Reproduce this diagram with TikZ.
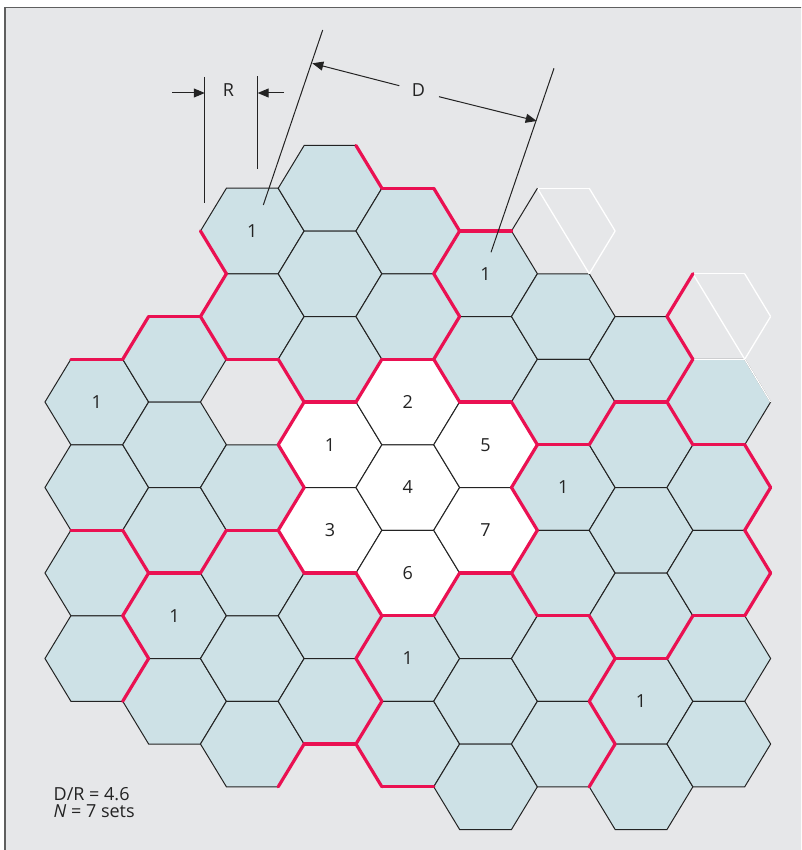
\documentclass[tikz,border=0pt]{standalone}
\usepackage{fontspec}
\setmainfont{Open Sans}
\usetikzlibrary{arrows.meta}
\definecolor{bg}{RGB}{230,231,233}
\definecolor{cellfill}{RGB}{205,225,230}
\definecolor{clred}{RGB}{234,17,82}
\definecolor{ink}{RGB}{35,35,35}
\definecolor{framecol}{RGB}{95,95,95}
\newcommand\X[1]{(96.8+77.75*(#1))}
\newcommand\Y[1]{(402+42.75*(#1))}
\newcommand\hexat[3][]{\path[#1] ({\X{#2}+51.83},{\Y{#3}}) -- ({\X{#2}+25.915},{\Y{#3}+42.75}) -- ({\X{#2}-25.915},{\Y{#3}+42.75}) -- ({\X{#2}-51.83},{\Y{#3}}) -- ({\X{#2}-25.915},{\Y{#3}-42.75}) -- ({\X{#2}+25.915},{\Y{#3}-42.75}) -- cycle;}
% edge a -> a+1 : 0=lower-right 1=bottom 2=lower-left 3=upper-left 4=top 5=upper-right
\newcommand\E[4][redline]{\draw[#1] ({\X{#2}+51.83*cos(60*(#4))},{\Y{#3}+49.363*sin(60*(#4))}) -- ({\X{#2}+51.83*cos(60*(#4+1))},{\Y{#3}+49.363*sin(60*(#4+1))});}
\newcommand\diag[2]{\draw[whiteline] ({\X{#1}-25.915},{\Y{#2}-42.75}) -- ({\X{#1}+25.915},{\Y{#2}+42.75});}
\tikzset{
  bluecell/.style={fill=cellfill,draw=ink,line width=1pt},
  whitecell/.style={fill=white,draw=ink,line width=1pt},
  redline/.style={draw=clred,line width=3.2pt,line cap=round},
  whiteline/.style={draw=white,line width=1.3pt},
  blackline/.style={draw=ink,line width=1pt},
  lbl/.style={text=ink,font=\fontsize{18}{18}\selectfont,inner sep=0pt},
  dimline/.style={draw=ink,line width=1pt},
  dimarrow/.style={draw=ink,line width=1pt,-{Triangle[length=11pt,width=9pt]}},
}
\begin{document}
\begin{tikzpicture}[x=1pt,y=-1pt]
\useasboundingbox (0,0) rectangle (801,850);
\clip (0,0) rectangle (801,850);
\fill[white] (0,0) rectangle (801,850);
\fill[bg] (5,7.5) rectangle (820,870);
\draw[framecol,line width=1.3pt] (5,870) -- (5,7.5) -- (820,7.5);
% cells
\foreach \i/\k in {0/0,0/2,0/4,0/6,
  1/-1,1/1,1/3,1/5,1/7,
  2/-4,2/-2,2/2,2/4,2/6,2/8,
  3/-5,3/-3,3/-1,3/5,3/7,
  4/-4,4/-2,4/6,4/8,
  5/-3,5/-1,5/5,5/7,5/9,
  6/-2,6/0,6/2,6/4,6/6,6/8,
  7/-1,7/1,7/3,7/5,7/7,7/9,
  8/0,8/2,8/4,8/6,8/8}{\hexat[bluecell]{\i}{\k}}
\foreach \i/\k in {3/1,4/0,3/3,4/2,5/1,4/4,5/3}{\hexat[whitecell]{\i}{\k}}
% ghost cells (white outlines)
\foreach \e in {4,5,0}{\E[whiteline]{6}{-4}{\e}\E[whiteline]{8}{-2}{\e}}
\E[whiteline]{8}{0}{4}
\E[whiteline]{8}{0}{5}
\diag{6}{-4}
\diag{8}{-2}
\E[blackline]{6}{-4}{3}
% red cluster borders
\foreach \i/\k/\e in {0/2/1,1/3/1,2/-2/1,2/2/1,3/-1/1,3/3/1,4/-2/1,4/4/1,5/-1/1,5/3/1,6/0/1,6/4/1,7/-1/1,7/5/1,8/0/1,8/4/1,
  0/4/5,0/4/0,0/6/5,0/6/0,
  1/-1/5,1/3/0,
  2/0/5,2/0/0,2/2/5,2/2/0,2/4/5,
  3/-1/0,3/5/5,3/5/0,3/7/5,3/7/0,
  4/-4/0,4/-2/5,4/-2/0,4/0/5,4/4/0,
  5/1/5,5/1/0,5/3/5,5/3/0,5/5/5,
  6/0/0,6/6/5,6/6/0,6/8/5,6/8/0,
  7/-1/5,7/-1/0,7/1/5,7/5/0,
  0/0/4,1/-1/3,1/-1/4,2/-2/3,2/-4/2,3/-5/5,4/-4/4,4/-4/5,5/-3/4,8/-2/3,
  8/2/5,8/2/0,8/4/5,8/4/0,3/7/1,2/8/0,4/8/2,4/8/1}{\E{\i}{\k}{\e}}
% labels
\node[lbl] (c00) at ({\X{0}},{\Y{0}}) {1};
\node[lbl] (c15) at ({\X{1}},{\Y{5}}) {1};
\node[lbl] (c2m4) at ({\X{2}},{\Y{-4}}) {1};
\node[lbl] (c46) at ({\X{4}},{\Y{6}}) {1};
\node[lbl] (c5m3) at ({\X{5}},{\Y{-3}}) {1};
\node[lbl] (c62) at ({\X{6}},{\Y{2}}) {1};
\node[lbl] (c77) at ({\X{7}},{\Y{7}}) {1};
\node[lbl] (w1) at ({\X{3}},{\Y{1}}) {1};
\node[lbl] (w2) at ({\X{4}},{\Y{0}}) {2};
\node[lbl] (w3) at ({\X{3}},{\Y{3}}) {3};
\node[lbl] (w4) at ({\X{4}},{\Y{2}}) {4};
\node[lbl] (w5) at ({\X{5}},{\Y{1}}) {5};
\node[lbl] (w6) at ({\X{4}},{\Y{4}}) {6};
\node[lbl] (w7) at ({\X{5}},{\Y{3}}) {7};
% R dimension
\coordinate (rl1) at (204.8,77);
\coordinate (rl2) at (204.8,203);
\coordinate (rr1) at (257.7,76.5);
\coordinate (rr2) at (257.7,169);
\draw[dimline] (rl1) -- (rl2);
\draw[dimline] (rr1) -- (rr2);
\coordinate (ra0) at (172,93);
\coordinate (ra1) at (204.8,93);
\coordinate (rb0) at (284,93);
\coordinate (rb1) at (257.7,93);
\draw[dimarrow] (ra0) -- (ra1);
\draw[dimarrow] (rb0) -- (rb1);
\node[lbl,anchor=base] (rlab) at (228.5,96.5) {R};
% D dimension
\coordinate (dl1) at (322.7,30);
\coordinate (dl2) at (263.3,205);
\coordinate (dr1) at (554,68.3);
\coordinate (dr2) at (491,252.3);
\draw[dimline] (dl1) -- (dl2);
\draw[dimline] (dr1) -- (dr2);
\coordinate (da0) at (399.3,85.7);
\coordinate (da1) at (312.3,63.3);
\coordinate (db0) at (439,96.7);
\coordinate (db1) at (536.7,121);
\draw[dimarrow] (da0) -- (da1);
\draw[dimarrow] (db0) -- (db1);
\node[lbl,anchor=base] (dlab) at (418.5,96.5) {D};
% legend
\node[lbl,anchor=base west] (t1) at (53.5,800) {D/R = 4.6};
\node[lbl,anchor=base west] (t2) at (53.5,817.7) {\textit{N} = 7 sets};
\end{tikzpicture}
\end{document}
